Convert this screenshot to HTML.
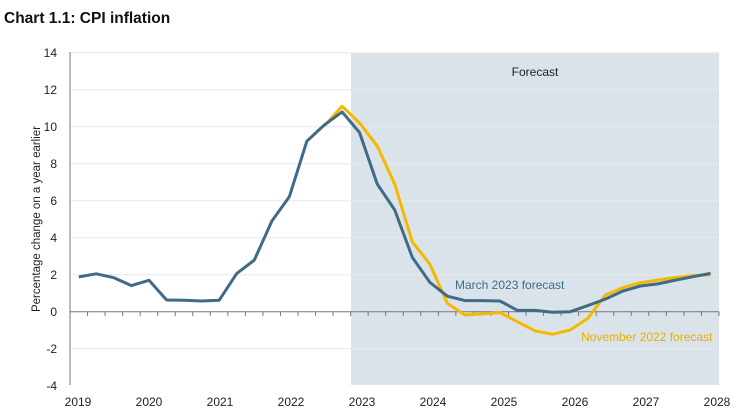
<!DOCTYPE html>
<html><head><meta charset="utf-8"><style>
body{margin:0;background:#fff;width:756px;height:419px;overflow:hidden}
svg{display:block;font-family:"Liberation Sans",sans-serif}
</style></head><body>
<svg width="756" height="419" viewBox="0 0 756 419">
<text x="4" y="23" font-size="15.5" font-weight="bold" fill="#111">Chart 1.1: CPI inflation</text>
<rect x="351" y="53" width="368" height="332" fill="#dbe3ea"/>
<g stroke="#e6e9ec" stroke-width="1">
<line x1="70" x2="719" y1="52.7" y2="52.7"/><line x1="70" x2="719" y1="89.7" y2="89.7"/>
<line x1="70" x2="719" y1="126.7" y2="126.7"/><line x1="70" x2="719" y1="163.7" y2="163.7"/>
<line x1="70" x2="719" y1="200.7" y2="200.7"/><line x1="70" x2="719" y1="237.7" y2="237.7"/>
<line x1="70" x2="719" y1="274.7" y2="274.7"/><line x1="70" x2="719" y1="348.7" y2="348.7"/>
</g>
<line x1="70" x2="70" y1="52" y2="385" stroke="#777" stroke-width="1"/>
<line x1="70" x2="719" y1="311.7" y2="311.7" stroke="#777" stroke-width="1"/>
<g stroke="#777" stroke-width="1" id="ticks"></g>
<g font-size="12" fill="#222" text-anchor="end">
<text x="57" y="57">14</text><text x="57" y="94">12</text><text x="57" y="131">10</text>
<text x="57" y="168">8</text><text x="57" y="205">6</text><text x="57" y="242">4</text>
<text x="57" y="279">2</text><text x="57" y="316">0</text><text x="57" y="353">-2</text>
<text x="57" y="390">-4</text>
</g>
<g font-size="12" fill="#222" text-anchor="middle">
<text x="78" y="406">2019</text><text x="149" y="406">2020</text><text x="220" y="406">2021</text>
<text x="291" y="406">2022</text><text x="362" y="406">2023</text><text x="433" y="406">2024</text>
<text x="504" y="406">2025</text><text x="575" y="406">2026</text><text x="646" y="406">2027</text>
<text x="717" y="406">2028</text>
</g>
<text transform="translate(40,219) rotate(-90)" font-size="11.5" fill="#222" text-anchor="middle">Percentage change on a year earlier</text>
<text x="535" y="76" font-size="12" fill="#222" text-anchor="middle">Forecast</text>
<text x="455" y="289" font-size="12" fill="#3f6b87">March 2023 forecast</text>
<text x="581" y="341" font-size="12" fill="#e8b000">November 2022 forecast</text>
<polyline id="yl" fill="none" stroke="#f5b800" stroke-width="3" stroke-linejoin="round"/>
<polyline id="bl" fill="none" stroke="#3f6b87" stroke-width="3" stroke-linejoin="round"/>
</svg>
<script>
var X=i=>78.8+17.55*i, Y=v=>311.7-18.5*v;
var b=[1.88,2.05,1.84,1.41,1.70,0.63,0.62,0.58,0.62,2.07,2.79,4.9,6.22,9.22,10.1,10.8,9.68,6.9,5.5,2.94,1.59,0.84,0.6,0.6,0.58,0.07,0.07,-0.03,0.0,0.33,0.68,1.12,1.39,1.5,1.71,1.89,2.07];
var y={14:10.05,15:11.1,16:10.2,17:8.96,18:6.9,19:3.78,20:2.58,21:0.45,22:-0.18,23:-0.12,24:-0.05,25:-0.54,26:-1.04,27:-1.22,28:-0.99,29:-0.36,30:0.9,31:1.3,32:1.57,33:1.71,34:1.85,35:1.95,36:2.0};
document.getElementById('bl').setAttribute('points',b.map((v,i)=>X(i).toFixed(1)+','+Y(v).toFixed(1)).join(' '));
document.getElementById('yl').setAttribute('points',Object.keys(y).map(Number).sort((a,c)=>a-c).map(i=>X(i).toFixed(1)+','+Y(y[i]).toFixed(1)).join(' '));
var t='';for(var k=0;k<=37;k++){var x=70+17.54*k;t+='<line x1="'+x+'" x2="'+x+'" y1="311.7" y2="316"/>';}
document.getElementById('ticks').innerHTML=t;
</script>
</body></html>
